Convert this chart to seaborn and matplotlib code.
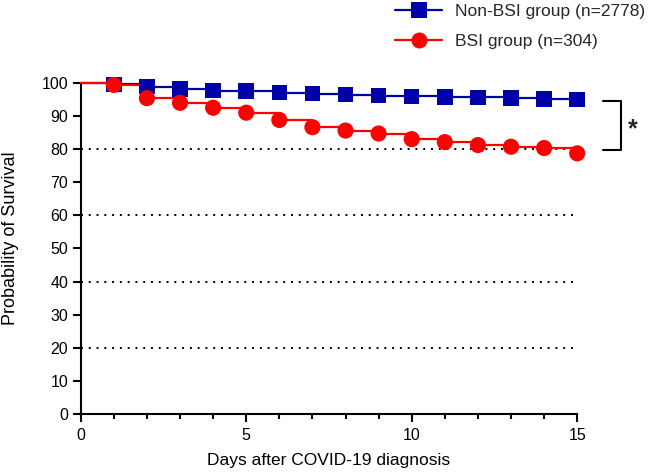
import matplotlib
matplotlib.use("Agg")
import matplotlib.pyplot as plt
import seaborn as sns
import pandas as pd
from matplotlib.lines import Line2D

days = [0, 1, 2, 3, 4, 5, 6, 7, 8, 9, 10, 11, 12, 13, 14, 15]
non_bsi = [100, 99.7, 99.0, 98.2, 97.8, 97.6, 97.2, 96.9, 96.6, 96.3, 96.0, 95.9, 95.7, 95.5, 95.2, 95.1]
bsi = [100, 99.5, 95.5, 94.1, 92.6, 91.1, 88.9, 86.7, 85.7, 84.8, 83.1, 82.2, 81.3, 80.8, 80.4, 78.8]
labels = ["Non-BSI group (n=2778)", "BSI group (n=304)"]
grid_levels = [20, 40, 60, 80]
x_ticks = [0, 5, 10, 15]
y_ticks = [0, 10, 20, 30, 40, 50, 60, 70, 80, 90, 100]

sns.set_theme(style="ticks")
plt.rcParams["font.family"] = ["Liberation Sans", "DejaVu Sans"]

blue = "#0000A8"
red = "#FF0000"

df = pd.DataFrame({"day": days, "non": non_bsi, "bsi": bsi})
marks = df[df["day"] >= 1]

fig = plt.figure(figsize=(6.5, 4.74), dpi=100)
ax = fig.add_axes([0.1242, 0.1272, 0.888 - 0.1242, 0.8243 - 0.1272])

# dotted reference lines
for g in grid_levels:
    ax.plot([0, 15], [g, g], color="black", lw=1.4, linestyle=(0, (1, 3)), zorder=1)

sns.lineplot(data=df, x="day", y="non", ax=ax, color=blue, lw=1.6,
             drawstyle="steps-post", zorder=3, clip_on=False)
sns.lineplot(data=df, x="day", y="bsi", ax=ax, color=red, lw=1.6,
             drawstyle="steps-post", zorder=4, clip_on=False)
sns.scatterplot(data=marks, x="day", y="non", ax=ax, color=blue, marker="s",
                s=125, edgecolor="none", linewidth=0, zorder=5, clip_on=False)
sns.scatterplot(data=marks, x="day", y="bsi", ax=ax, color=red, marker="o",
                s=135, edgecolor="none", linewidth=0, zorder=6, clip_on=False)

ax.set_xlim(0, 15)
ax.set_ylim(0, 100)
ax.set_xticks(x_ticks)
ax.set_xticks(range(0, 16), minor=True)
ax.set_yticks(y_ticks)
ax.tick_params(axis="both", which="major", length=6, width=1.5, labelsize=11.5,
               color="black", labelcolor="black", pad=3)
ax.tick_params(axis="x", which="major", pad=4)
ax.tick_params(axis="x", which="minor", length=3.5, width=1.5, color="black")
ax.set_xlabel("Days after COVID-19 diagnosis", fontsize=12.5, color="black")
ax.set_ylabel("Probability of Survival", fontsize=13, color="black")
ax.xaxis.set_label_coords(0.5, -0.118)
ax.yaxis.set_label_coords(-0.125, 0.53)
for s in ["left", "bottom"]:
    ax.spines[s].set_linewidth(1.5)
    ax.spines[s].set_color("black")
sns.despine(ax=ax)

# significance bracket
ax.plot([15.78, 16.32, 16.32, 15.78], [94.5, 94.5, 79.8, 79.8], color="black",
        lw=1.5, clip_on=False)
ax.text(16.68, 86.0, "*", fontsize=18, fontweight="bold", ha="center", va="center",
        clip_on=False)

handles = [
    Line2D([0], [0], color=blue, lw=1.6, marker="s", markersize=11, markeredgewidth=0),
    Line2D([0], [0], color=red, lw=1.6, marker="o", markersize=11.5, markeredgewidth=0),
]
fig.legend(handles, labels, loc="upper left", bbox_to_anchor=(0.584, 1.0255),
           frameon=False, fontsize=12.5, handlelength=2.7, handletextpad=0.75,
           labelspacing=0.9)

fig.savefig("out.png", dpi=100)
